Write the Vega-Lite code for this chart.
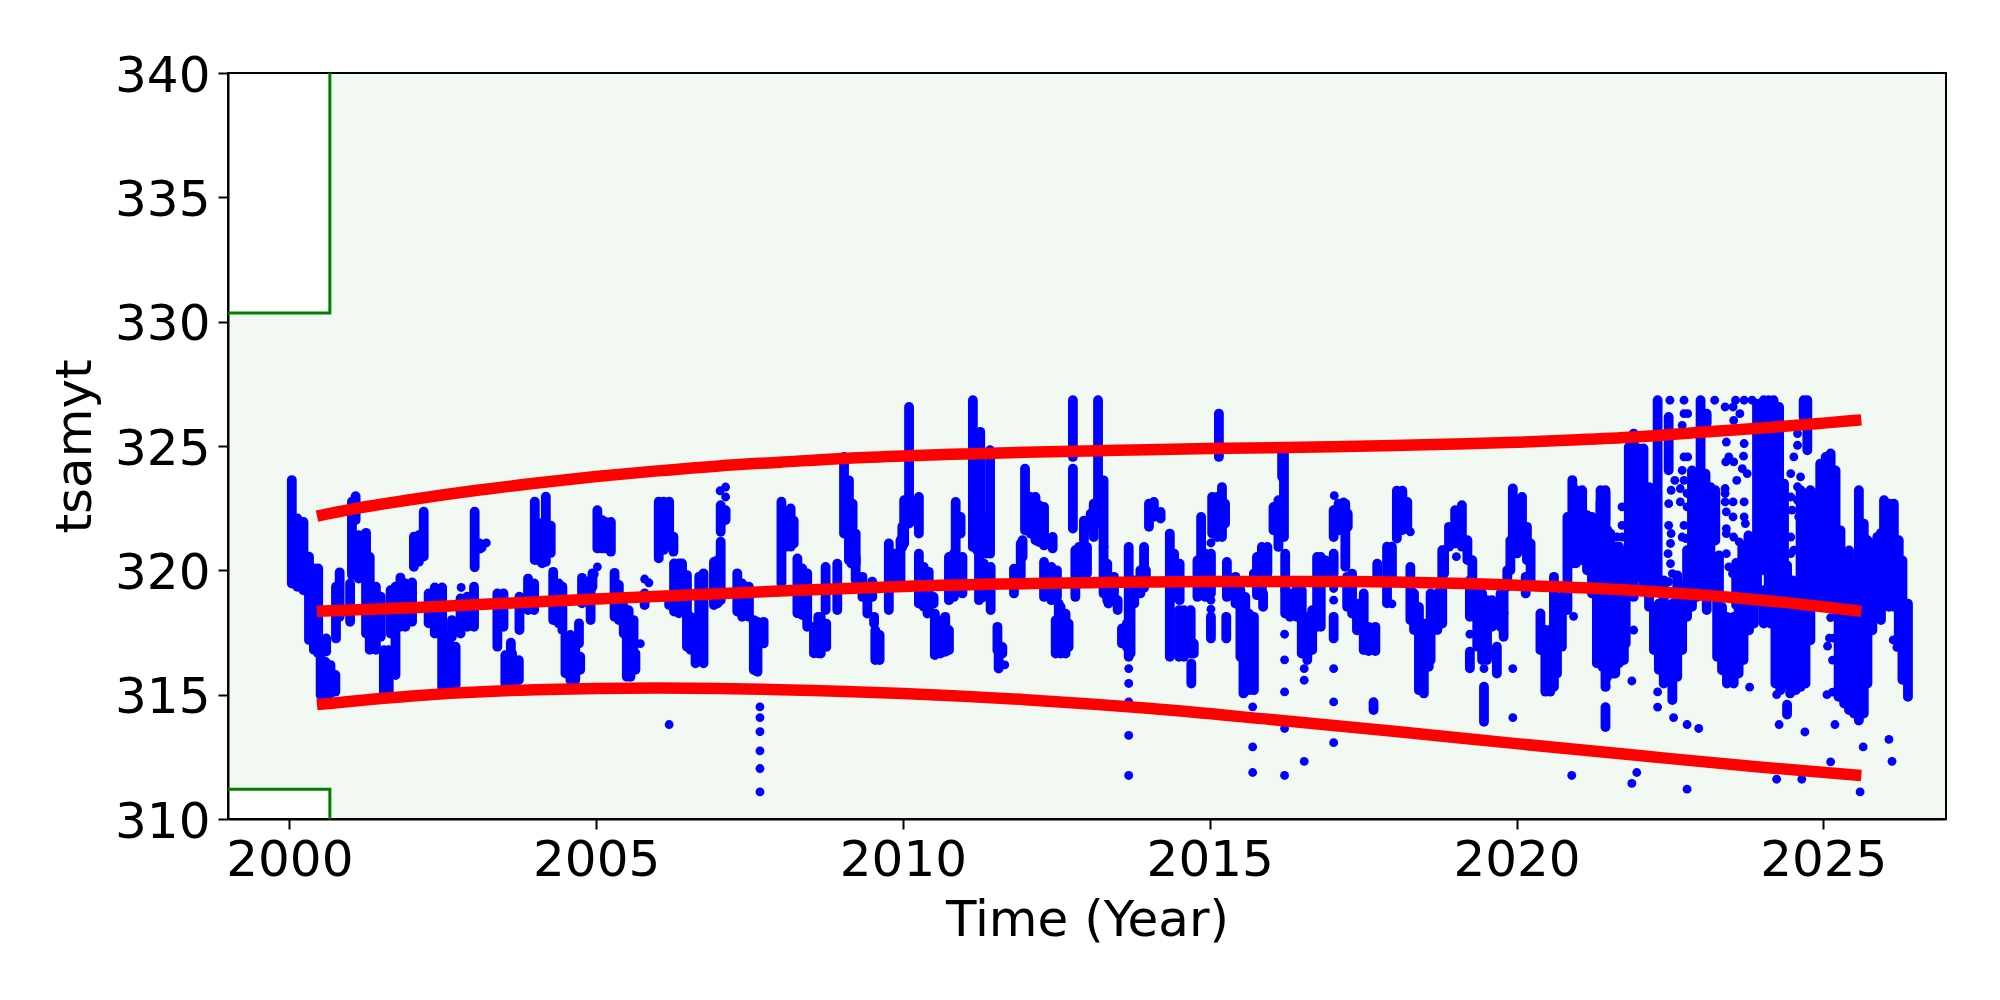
{"$schema":"https://vega.github.io/schema/vega-lite/v6.json","autosize":"none","padding":{"left":228,"top":73,"right":54,"bottom":181},"width":1718,"height":746,"background":"white","config":{"view":{"stroke":"black","strokeWidth":2},"font":"DejaVu Sans"},
"datasets":{
"band":[{"t0":2000.66,"t1":2027,"lo":310,"hi":340},{"t0":1999,"t1":2000.66,"lo":311.2,"hi":330.35}],
"limit":[{"n":"upper","s":1,"t":1999,"v":330.35},{"n":"upper","s":2,"t":2000.66,"v":330.35},{"n":"upper","s":3,"t":2000.66,"v":340},{"n":"lower","s":1,"t":1999,"v":311.2},{"n":"lower","s":2,"t":2000.66,"v":311.2},{"n":"lower","s":3,"t":2000.66,"v":310}],
"runs":[
{"t":2000.04,"a":319.47,"b":323.63},{"t":2000.13,"a":319.34,"b":322.09},{"t":2000.23,"a":319.2,"b":321.95},{"t":2000.32,"a":317.2,"b":320.55},{"t":2000.4,"a":316.8,"b":320.08},{"t":2000.47,"a":316.66,"b":320.08},{"t":2000.6,"a":316.73,"b":317.26},{"t":2000.51,"a":314.99,"b":316.46},{"t":2000.59,"a":315,"b":316.32},{"t":2000.67,"a":315.05,"b":316.19},{"t":2000.75,"a":315.12,"b":315.79},{"t":2000.82,"a":318.13,"b":319.92},{"t":2000.76,"a":317.26,"b":319.34},{"t":2000.99,"a":317.93,"b":319.47},{"t":2001.02,"a":319.81,"b":322.76},{"t":2001.08,"a":322.02,"b":322.98},{"t":2001.13,"a":319.67,"b":321.41},{"t":2001.25,"a":317.46,"b":321.51},{"t":2001.31,"a":316.8,"b":320.54},{"t":2001.41,"a":316.8,"b":319.34},{"t":2001.49,"a":317.33,"b":318.94},{"t":2001.54,"a":315.05,"b":316.79},{"t":2001.62,"a":315.12,"b":316.79},{"t":2001.73,"a":315.79,"b":317.46},{"t":2001.65,"a":317.46,"b":319.2},{"t":2001.73,"a":317.73,"b":319.34},{"t":2001.81,"a":317.73,"b":319.71},{"t":2001.89,"a":317.73,"b":319.47},{"t":2002,"a":317.93,"b":319.51},{"t":2002.03,"a":320.14,"b":321.35},{"t":2002.11,"a":320.34,"b":321.41},{"t":2002.19,"a":320.55,"b":322.36},{"t":2002.27,"a":317.87,"b":319.07},{"t":2002.37,"a":317.46,"b":319.31},{"t":2002.49,"a":317.33,"b":319.31},{"t":2002.49,"a":315.32,"b":317.33},{"t":2002.6,"a":315.32,"b":317.33},{"t":2002.71,"a":315.39,"b":316.93},{"t":2002.65,"a":317.33,"b":318},{"t":2002.79,"a":317.46,"b":318.87},{"t":2002.9,"a":317.73,"b":318.94},{"t":2003.01,"a":317.73,"b":319.34},{"t":2003.02,"a":320.12,"b":322.36},{"t":2003.1,"a":320.87,"b":321.08},{"t":2003.39,"a":316.93,"b":319.07},{"t":2003.49,"a":317.73,"b":319.07},{"t":2003.61,"a":316.66,"b":317.09},{"t":2003.52,"a":315.45,"b":316.59},{"t":2003.63,"a":315.39,"b":316.66},{"t":2003.74,"a":315.59,"b":316.39},{"t":2003.75,"a":317.6,"b":318.94},{"t":2003.89,"a":318.4,"b":319.67},{"t":2003.99,"a":318.4,"b":319.47},{"t":2004,"a":320.41,"b":322.76},{"t":2004.05,"a":320.41,"b":321.9},{"t":2004.18,"a":320.34,"b":322.96},{"t":2004.12,"a":320.28,"b":321.9},
{"t":2004.26,"a":320.7,"b":321.8},{"t":2004.3,"a":318,"b":319.94},{"t":2004.39,"a":317.87,"b":319.47},{"t":2004.45,"a":317.6,"b":319.34},{"t":2004.72,"a":317.06,"b":317.87},{"t":2004.5,"a":315.86,"b":317.35},{"t":2004.58,"a":315.59,"b":317.4},{"t":2004.66,"a":315.59,"b":317.2},{"t":2004.74,"a":316,"b":316.53},{"t":2004.77,"a":318.67,"b":319.7},{"t":2004.91,"a":318,"b":319.6},{"t":2004.94,"a":319.34,"b":319.88},{"t":2005.02,"a":320.88,"b":322.42},{"t":2005.1,"a":320.88,"b":322.02},{"t":2005.15,"a":320.88,"b":321.95},{"t":2005.24,"a":320.75,"b":321.95},{"t":2005.3,"a":318.13,"b":319.9},{"t":2005.37,"a":318,"b":319.41},{"t":2005.45,"a":317.46,"b":318.54},{"t":2005.53,"a":316.8,"b":318.4},{"t":2005.61,"a":316.93,"b":318},{"t":2005.5,"a":315.72,"b":317.33},{"t":2005.56,"a":315.72,"b":316.79},{"t":2005.64,"a":316,"b":316.66},{"t":2005.79,"a":318.6,"b":319.07},{"t":2006.02,"a":320.48,"b":322.76},{"t":2006.1,"a":320.82,"b":322.76},{"t":2006.19,"a":320.95,"b":322.76},{"t":2006.26,"a":320.75,"b":321.35},{"t":2006.27,"a":318.34,"b":320.28},{"t":2006.19,"a":318.6,"b":318.87},{"t":2006.35,"a":318.27,"b":320.28},{"t":2006.4,"a":318.54,"b":320.28},{"t":2006.48,"a":316.93,"b":319.81},{"t":2006.54,"a":316.8,"b":318.13},{"t":2006.62,"a":316.26,"b":317.73},{"t":2006.75,"a":316.26,"b":319.88},{"t":2006.68,"a":316.39,"b":319.75},{"t":2006.92,"a":318.6,"b":320.34},{"t":2007.03,"a":318.8,"b":321.15},{"t":2006.98,"a":318.67,"b":320.41},{"t":2007.03,"a":321.55,"b":322.62},{"t":2007.11,"a":322.02,"b":322.42},{"t":2007.3,"a":318.34,"b":319.88},{"t":2007.38,"a":318.13,"b":319.47},{"t":2007.49,"a":318.13,"b":319.34},{"t":2007.57,"a":315.99,"b":318},{"t":2007.63,"a":315.92,"b":317.93},{"t":2007.73,"a":317.06,"b":317.93},{"t":2008.02,"a":319.47,"b":322.76},{"t":2008.1,"a":320.95,"b":322.22},{"t":2008.17,"a":320.95,"b":322.49},{"t":2008.22,"a":321.08,"b":322},{"t":2008.28,"a":318.27,"b":320.48},{"t":2008.36,"a":318.2,"b":320.08},{"t":2008.44,"a":317.73,"b":319.88},{"t":2008.55,"a":316.66,"b":317.73},{"t":2008.62,"a":316.66,"b":318.13},
{"t":2008.66,"a":316.65,"b":318.13},{"t":2008.75,"a":316.92,"b":317.86},{"t":2008.74,"a":318.4,"b":320.14},{"t":2008.93,"a":318.4,"b":320.27},{"t":2009.04,"a":321.48,"b":324.56},{"t":2009.12,"a":321.61,"b":323.62},{"t":2009.18,"a":321.75,"b":322.68},{"t":2009.12,"a":320.4,"b":321.61},{"t":2009.23,"a":320.27,"b":321.48},{"t":2009.16,"a":320.27,"b":321.34},{"t":2009.23,"a":319.6,"b":320.54},{"t":2009.34,"a":318.93,"b":319.74},{"t":2009.42,"a":318.26,"b":318.93},{"t":2009.5,"a":318.93,"b":319.54},{"t":2009.53,"a":317.86,"b":318.13},{"t":2009.55,"a":316.39,"b":317.59},{"t":2009.62,"a":316.39,"b":317.4},{"t":2009.77,"a":318.4,"b":321.08},{"t":2009.85,"a":319.6,"b":320.67},{"t":2009.96,"a":319.6,"b":321.21},{"t":2010.02,"a":321.08,"b":321.88},{"t":2010.1,"a":322.95,"b":326.57},{"t":2010.02,"a":322,"b":322.82},{"t":2010.1,"a":321.88,"b":322.95},{"t":2010.26,"a":321.48,"b":322.95},{"t":2010.18,"a":322,"b":322.68},{"t":2009.99,"a":320.94,"b":321.75},{"t":2010.26,"a":318.66,"b":320.67},{"t":2010.34,"a":318.53,"b":320.14},{"t":2010.42,"a":318.4,"b":319.94},{"t":2010.5,"a":318.66,"b":318.93},{"t":2010.52,"a":316.59,"b":318.26},{"t":2010.61,"a":316.65,"b":317.99},{"t":2010.69,"a":316.72,"b":318.13},{"t":2010.75,"a":316.79,"b":317.59},{"t":2010.4,"a":318.26,"b":318.66},{"t":2010.75,"a":318.8,"b":320.54},{"t":2010.83,"a":318.93,"b":320.67},{"t":2010.97,"a":319.07,"b":320.54},{"t":2010.86,"a":320.67,"b":322.75},{"t":2010.94,"a":321.48,"b":322.15},{"t":2011.14,"a":320.94,"b":326.84},{"t":2011.21,"a":320.81,"b":325.5},{"t":2011.26,"a":320.81,"b":325.57},{"t":2011.35,"a":320.67,"b":322.15},{"t":2011.42,"a":320.67,"b":324.83},{"t":2011.24,"a":318.8,"b":320.81},{"t":2011.32,"a":318.93,"b":320.27},{"t":2011.43,"a":318.4,"b":320.14},{"t":2011.54,"a":316.79,"b":317.73},{"t":2011.62,"a":316.65,"b":316.92},{"t":2011.56,"a":316.05,"b":316.79},{"t":2011.81,"a":319.07,"b":320.07},{"t":2011.92,"a":319.6,"b":321.08},{"t":2011.95,"a":320.54,"b":321.21},{"t":2011.99,"a":321.61,"b":324.09},{"t":2012.08,"a":321.48,"b":322.95},{"t":2012.16,"a":321.21,"b":322.95},{"t":2012.22,"a":321.14,"b":322.62},{"t":2012.3,"a":321,"b":322.55},{"t":2012.44,"a":320.88,"b":321.34},{"t":2012.3,"a":318.93,"b":320.34},{"t":2012.42,"a":318.8,"b":320.14},{"t":2012.51,"a":318.93,"b":320},{"t":2012.54,"a":318.2,"b":318.66},{"t":2012.49,"a":316.65,"b":317.99},{"t":2012.57,"a":316.65,"b":318.53},{"t":2012.65,"a":316.65,"b":318.26},{"t":2012.7,"a":316.92,"b":317.86},{"t":2012.77,"a":324.56,"b":326.84},{"t":2012.77,"a":321.68,"b":324.09},{"t":2012.81,"a":318.93,"b":320.81},{"t":2012.87,"a":319.6,"b":320.94},{"t":2013,"a":319.87,"b":320.94},{"t":2012.95,"a":321.2,"b":322},
{"t":2013.18,"a":321.88,"b":326.84},{"t":2013.11,"a":321.34,"b":322.68},{"t":2013.06,"a":321.61,"b":322.28},{"t":2013.27,"a":320.94,"b":323.62},{"t":2013.27,"a":319.07,"b":320.94},{"t":2013.33,"a":318.8,"b":320.27},{"t":2013.44,"a":319.07,"b":319.74},{"t":2013.5,"a":318.4,"b":318.8},{"t":2013.35,"a":318.66,"b":318.93},{"t":2013.68,"a":316.52,"b":320.94},{"t":2013.57,"a":317.06,"b":317.66},{"t":2013.65,"a":316.92,"b":317.86},{"t":2013.71,"a":316.66,"b":318.53},{"t":2013.93,"a":319.3,"b":320.94},{"t":2013.77,"a":318.66,"b":319.6},{"t":2013.87,"a":319.07,"b":320},{"t":2013.96,"a":319.6,"b":320},{"t":2014.01,"a":321.75,"b":322.68},{"t":2014.09,"a":322.15,"b":322.75},{"t":2014.2,"a":322.08,"b":322.35},{"t":2014.35,"a":316.52,"b":321.48},{"t":2014.42,"a":318.93,"b":320.67},{"t":2014.51,"a":318.8,"b":320.27},{"t":2014.5,"a":316.52,"b":318.4},{"t":2014.58,"a":316.52,"b":318.4},{"t":2014.69,"a":316.65,"b":318.4},{"t":2014.74,"a":316.65,"b":317.06},{"t":2014.7,"a":315.45,"b":316.25},{"t":2014.8,"a":318.93,"b":320.4},{"t":2014.86,"a":320.54,"b":322.15},{"t":2014.93,"a":318.93,"b":320.67},{"t":2015.02,"a":319.07,"b":320.67},{"t":2015.02,"a":317.26,"b":318.13},{"t":2015.04,"a":321.48,"b":322.95},{"t":2015.2,"a":321.34,"b":323.35},{"t":2015.25,"a":321.88,"b":322.68},{"t":2015.12,"a":321.34,"b":322.95},{"t":2015.15,"a":324.56,"b":326.3},{"t":2015.27,"a":317.26,"b":318.13},{"t":2015.28,"a":318.93,"b":320.34},{"t":2015.42,"a":318.66,"b":319.74},{"t":2015.5,"a":316.52,"b":319.2},{"t":2015.58,"a":315.18,"b":318.93},{"t":2015.55,"a":315.05,"b":318.4},{"t":2015.64,"a":315.18,"b":318.26},{"t":2015.72,"a":315.18,"b":318.13},{"t":2015.77,"a":319.0,"b":320.54},{"t":2015.85,"a":319.2,"b":320.94},{"t":2015.94,"a":319.87,"b":320.94},{"t":2015.87,"a":318.53,"b":319.07},{"t":2015.72,"a":319.6,"b":319.87},{"t":2016.18,"a":323.76,"b":324.8},{"t":2016.21,"a":321.34,"b":324.7},{"t":2016.04,"a":321.61,"b":322.55},{"t":2016.12,"a":320.94,"b":322.82},{"t":2016.23,"a":319.2,"b":320.67},{"t":2016.23,"a":318.26,"b":319.2},{"t":2016.31,"a":318.13,"b":319.07},{"t":2016.42,"a":318.13,"b":319.34},{"t":2016.5,"a":316.65,"b":319.2},{"t":2016.59,"a":316.39,"b":318.13},{"t":2016.67,"a":316.79,"b":318.4},{"t":2016.75,"a":317.73,"b":320.54},{"t":2016.81,"a":317.73,"b":320.54},{"t":2016.89,"a":319.87,"b":320.4},{"t":2017.02,"a":321.34,"b":322.42},{"t":2017.1,"a":321.61,"b":322.68},{"t":2017.21,"a":320.14,"b":322.68},{"t":2017.25,"a":321.75,"b":322.28},{"t":2017.02,"a":319.87,"b":320.67},{"t":2017.02,"a":317.26,"b":318.13},{"t":2017.24,"a":318.53,"b":319.74},{"t":2017.32,"a":318.26,"b":319.87},{"t":2017.4,"a":317.59,"b":318.66},
{"t":2017.51,"a":316.79,"b":319.07},{"t":2017.59,"a":316.75,"b":317.73},{"t":2017.7,"a":316.75,"b":317.73},{"t":2017.73,"a":319.8,"b":320.27},{"t":2017.67,"a":314.38,"b":314.7},{"t":2017.89,"a":318.67,"b":320.95},{"t":2017.97,"a":319.6,"b":320.95},{"t":2018.05,"a":321.28,"b":323.2},{"t":2018.14,"a":321.62,"b":323.2},{"t":2018.22,"a":321.68,"b":322.75},{"t":2018.27,"a":318,"b":320.14},{"t":2018.33,"a":317.6,"b":319.07},{"t":2018.41,"a":315.18,"b":318.53},{"t":2018.49,"a":315.05,"b":317.86},{"t":2018.57,"a":316.12,"b":317.46},{"t":2018.6,"a":316.39,"b":319.07},{"t":2018.71,"a":317.6,"b":319.07},{"t":2018.79,"a":317.86,"b":320.81},{"t":2018.82,"a":319.87,"b":320.81},{"t":2018.9,"a":320.95,"b":321.75},{"t":2019,"a":321.08,"b":322.42},{"t":2019.11,"a":320.95,"b":322.62},{"t":2019.2,"a":320.41,"b":321.21},{"t":2019.28,"a":318.4,"b":320.41},{"t":2019.24,"a":318.13,"b":319.6},{"t":2019.36,"a":316.93,"b":319.07},{"t":2019.44,"a":316.39,"b":319.07},{"t":2019.52,"a":316.39,"b":318.8},{"t":2019.6,"a":317.73,"b":318.8},{"t":2019.74,"a":317.73,"b":319.07},{"t":2019.79,"a":317.33,"b":318.27},{"t":2019.68,"a":315.85,"b":316.93},{"t":2019.24,"a":316.06,"b":316.73},{"t":2019.47,"a":313.91,"b":315.32},{"t":2019.94,"a":320.95,"b":323.29},{"t":2020.09,"a":320.95,"b":322.95},{"t":2020.01,"a":320.68,"b":322.69},{"t":2020.17,"a":320.41,"b":321.75},{"t":2020.23,"a":319.6,"b":321.08},{"t":2019.9,"a":320,"b":321.2},{"t":2019.85,"a":319.34,"b":320},{"t":2019.79,"a":318.27,"b":319.34},{"t":2020.15,"a":319.07,"b":319.74},{"t":2020.39,"a":316.79,"b":318.27},{"t":2020.61,"a":315.32,"b":319.74},{"t":2020.47,"a":315.12,"b":317.6},{"t":2020.55,"a":315.12,"b":317.6},{"t":2020.66,"a":315.85,"b":317.6},{"t":2020.74,"a":316.93,"b":318.94},{"t":2020.83,"a":318.4,"b":322.15},{"t":2020.91,"a":320.28,"b":323.63},{"t":2020.97,"a":320.28,"b":323.22},{"t":2021.07,"a":320.41,"b":323.22},{"t":2021.15,"a":320,"b":322.22},{"t":2021.23,"a":319.07,"b":322.15},{"t":2021.31,"a":316.26,"b":321.48},{"t":2021.4,"a":316.12,"b":321.35},{"t":2021.45,"a":322.02,"b":323.09},{"t":2021.37,"a":321.62,"b":322.75},{"t":2021.48,"a":315.72,"b":321.62},{"t":2021.45,"a":313.7,"b":314.5},{"t":2021.58,"a":315.85,"b":320.95},{"t":2021.67,"a":316.26,"b":320.95},{"t":2021.75,"a":316.39,"b":320.41},
{"t":2021.37,"a":316.25,"b":323.22},{"t":2021.45,"a":315.31,"b":323.22},{"t":2021.53,"a":315.98,"b":321.48},{"t":2021.61,"a":315.85,"b":320.94},{"t":2021.69,"a":316.52,"b":320.81},{"t":2021.78,"a":317.06,"b":320.4},{"t":2021.91,"a":318.93,"b":325.5},{"t":2021.99,"a":319.74,"b":324.9},{"t":2022.07,"a":319.47,"b":324.9},{"t":2021.83,"a":320.14,"b":324.96},{"t":2022.16,"a":318.53,"b":323.35},{"t":2022.3,"a":323.35,"b":326.84},{"t":2022.3,"a":319.2,"b":323.22},{"t":2022.24,"a":316.79,"b":318.53},{"t":2022.32,"a":316,"b":318.66},{"t":2022.4,"a":315.45,"b":319.6},{"t":2022.48,"a":324.02,"b":326.17},{"t":2022.54,"a":314.78,"b":318.66},{"t":2022.62,"a":315.72,"b":319.2},{"t":2022.7,"a":316.79,"b":319.33},{"t":2022.78,"a":318.13,"b":320.81},{"t":2022.86,"a":318.53,"b":324.02},{"t":2022.94,"a":318.93,"b":323.49},{"t":2023,"a":323.35,"b":326.84},{"t":2023.08,"a":319.2,"b":323.89},{"t":2023.16,"a":319.2,"b":323.35},{"t":2023.24,"a":321.2,"b":323.22},{"t":2023.1,"a":325.9,"b":326.3},{"t":2023.27,"a":316.52,"b":319.2},{"t":2023.35,"a":315.98,"b":318.53},{"t":2023.43,"a":315.45,"b":318.13},{"t":2023.54,"a":315.45,"b":318.13},{"t":2023.62,"a":315.85,"b":318.4},{"t":2023.7,"a":316.39,"b":318.4},{"t":2023.79,"a":317.59,"b":318.66},{"t":2023.87,"a":317.86,"b":318.93},{"t":2023.1,"a":318.4,"b":319.2},{"t":2023.92,"a":318.93,"b":326.7},{"t":2024.03,"a":320,"b":326.84},{"t":2024.11,"a":318.93,"b":326.84},{"t":2024.19,"a":319.2,"b":326.84},{"t":2024.28,"a":318.66,"b":326.57},{"t":2024.36,"a":319.34,"b":323.49},{"t":2024.03,"a":317.86,"b":319.2},{"t":2024.14,"a":317.86,"b":318.93},{"t":2024.22,"a":315.45,"b":318.93},{"t":2024.3,"a":315.18,"b":318.66},{"t":2024.38,"a":315.45,"b":318.66},{"t":2024.46,"a":315.05,"b":318.93},{"t":2024.55,"a":315.18,"b":318.93},{"t":2024.63,"a":315.31,"b":318.53},{"t":2024.71,"a":315.45,"b":318.53},{"t":2024.79,"a":317.19,"b":318.53},{"t":2024.41,"a":314.2,"b":314.6},{"t":2024.68,"a":326.17,"b":326.84},{"t":2024.74,"a":324.83,"b":326.84},{"t":2024.63,"a":318.53,"b":323.22},{"t":2024.71,"a":318.53,"b":323.09},{"t":2024.79,"a":318.53,"b":323.22},{"t":2024.87,"a":318.66,"b":323.09},{"t":2024.95,"a":318.66,"b":324.29},{"t":2025.04,"a":318.53,"b":324.56},{"t":2025.12,"a":318.93,"b":324.7},{"t":2025.2,"a":318.4,"b":324.02},{"t":2025.28,"a":318.66,"b":321.61},{"t":2025.36,"a":318.53,"b":320.54},{"t":2025.25,"a":314.91,"b":318.13},{"t":2025.34,"a":314.64,"b":318.53},{"t":2025.42,"a":314.38,"b":320.8},{"t":2025.5,"a":314.24,"b":320.27},{"t":2025.58,"a":313.96,"b":323.22},{"t":2025.66,"a":314.24,"b":321.88},{"t":2025.72,"a":315.45,"b":321.21},{"t":2025.8,"a":317.59,"b":321.08},{"t":2025.84,"a":318.4,"b":321},{"t":2025.88,"a":318.53,"b":321.34},{"t":2025.94,"a":318,"b":321.5},{"t":2025.99,"a":318.93,"b":322.82},{"t":2026.07,"a":318.53,"b":322.68},{"t":2026.15,"a":318.53,"b":322.68},{"t":2026.23,"a":317.05,"b":321.21},{"t":2026.29,"a":315.6,"b":320.4},{"t":2026.38,"a":314.91,"b":318.66},{"t":2023.3,"a":319,"b":320.6},{"t":2023.58,"a":318.6,"b":320.3},{"t":2023.68,"a":318.6,"b":321},{"t":2023.78,"a":318.5,"b":321.4},{"t":2022.62,"a":319.2,"b":319.8},{"t":2024.41,"a":318.5,"b":320.2},{"t":2024.5,"a":318.6,"b":319.6}
],
"dots":[{"t":2002.8,"v":319.31},{"t":2003.21,"v":321.1},{"t":2003.14,"v":320.9},{"t":2005.02,"v":320.14},{"t":2004.97,"v":319.85},{"t":2005.72,"v":317.05},{"t":2005.79,"v":319.65},{"t":2005.86,"v":319.5},{"t":2007.11,"v":323.35},{"t":2007.02,"v":323.2},{"t":2007.11,"v":322.95},{"t":2006.19,"v":313.8},{"t":2007.67,"v":314.51},{"t":2007.67,"v":314.08},{"t":2007.67,"v":313.51},{"t":2007.67,"v":312.74},{"t":2007.67,"v":312.03},{"t":2007.67,"v":311.09},{"t":2011.66,"v":316.2},{"t":2013.68,"v":316.05},{"t":2013.68,"v":315.45},{"t":2013.68,"v":314.71},{"t":2013.68,"v":313.36},{"t":2013.68,"v":311.75},{"t":2015.02,"v":321.1},{"t":2015.02,"v":318.8},{"t":2015.02,"v":318.44},{"t":2015.7,"v":314.51},{"t":2015.7,"v":312.9},{"t":2015.7,"v":311.87},{"t":2016.22,"v":317.43},{"t":2016.22,"v":316.4},{"t":2016.22,"v":315.11},{"t":2016.22,"v":313.64},{"t":2016.22,"v":311.75},{"t":2016.54,"v":316.05},{"t":2016.54,"v":315.58},{"t":2016.54,"v":312.32},{"t":2017.02,"v":319.27},{"t":2017.02,"v":318.8},{"t":2017.02,"v":316.05},{"t":2017.02,"v":314.71},{"t":2017.02,"v":313.07},{"t":2017.03,"v":323},{"t":2017.18,"v":322.75},{"t":2017.97,"v":318.65},{"t":2018.27,"v":321.55},{"t":2019.02,"v":320.55},{"t":2019.24,"v":317.43},{"t":2019.47,"v":316.05},{"t":2019.94,"v":316.05},{"t":2019.94,"v":314.08},{"t":2020.9,"v":311.75},{"t":2020.93,"v":318.15},{"t":2021.72,"v":322.55},{"t":2021.72,"v":321.81},{"t":2021.72,"v":321.34},{"t":2021.64,"v":321.34},{"t":2021.46,"v":315.31},{"t":2021.88,"v":315.55},{"t":2021.91,"v":317.6},{"t":2021.96,"v":311.87},{"t":2021.88,"v":311.43},{"t":2022.5,"v":326.84},{"t":2022.73,"v":326.84},{"t":2023.23,"v":326.84},{"t":2023.57,"v":326.84},{"t":2023.71,"v":326.84},{"t":2023.84,"v":326.84},{"t":2022.73,"v":326.3},{"t":2022.79,"v":326.3},{"t":2022.7,"v":325.83},{"t":2022.73,"v":324.56},{"t":2022.79,"v":324.56},{"t":2022.7,"v":324.02},{"t":2022.58,"v":323.62},{"t":2022.73,"v":323.62},{"t":2022.52,"v":323.22},{"t":2022.67,"v":323.29},{"t":2022.78,"v":323.09},{"t":2022.48,"v":322.68},{"t":2022.67,"v":322.75},{"t":2022.78,"v":322.55},{"t":2022.48,"v":321.81},{"t":2022.73,"v":321.81},{"t":2022.52,"v":321.48},{"t":2022.7,"v":321.34},{"t":2022.51,"v":321.08},{"t":2022.76,"v":321.28},{"t":2022.47,"v":320.67},{"t":2022.51,"v":320.27},{"t":2022.54,"v":319.87},{"t":2022.48,"v":319.54},{"t":2023.4,"v":326.57},{"t":2023.53,"v":326.57},{"t":2023.64,"v":326.3},{"t":2023.54,"v":326.03},{"t":2023.42,"v":325.16},{"t":2023.71,"v":325.1},{"t":2023.7,"v":324.59},{"t":2023.41,"v":324.36},{"t":2023.46,"v":324.56},{"t":2023.54,"v":324.36},{"t":2023.68,"v":324.09},{"t":2023.76,"v":323.89},{"t":2023.59,"v":323.62},{"t":2023.4,"v":323.29},{"t":2023.4,"v":323.09},{"t":2023.4,"v":322.75},{"t":2023.53,"v":322.75},{"t":2023.71,"v":322.75},{"t":2023.42,"v":322.35},{"t":2023.53,"v":322.15},{"t":2023.71,"v":322.15},{"t":2023.42,"v":321.68},{"t":2023.42,"v":321.48},{"t":2023.54,"v":321.34},{"t":2023.63,"v":321.14},{"t":2023.73,"v":321.88},{"t":2023.42,"v":320.67},{"t":2023.46,"v":320.14},{"t":2023.52,"v":319.87},{"t":2024.52,"v":324.56},{"t":2024.47,"v":323.89},{"t":2024.63,"v":323.76},{"t":2024.58,"v":323.36},{"t":2024.47,"v":322.95},{"t":2024.58,"v":322.82},{"t":2024.49,"v":322.42},{"t":2024.6,"v":322.15},{"t":2024.63,"v":321.75},{"t":2024.47,"v":321.34},{"t":2024.52,"v":320.81},{"t":2024.47,"v":320.67},{"t":2024.58,"v":325.5},{"t":2024.58,"v":325.03},{"t":2022.78,"v":311.2},{"t":2024.65,"v":311.6},{"t":2024.24,"v":311.6},{"t":2024.28,"v":313.8},{"t":2024.7,"v":313.5},{"t":2025.19,"v":313.8},{"t":2024.24,"v":315},{"t":2022.56,"v":314.08},{"t":2022.78,"v":313.8},{"t":2022.97,"v":313.64},{"t":2022.3,"v":315.11},{"t":2022.3,"v":314.5},{"t":2023.8,"v":315.3},{"t":2025.06,"v":315},{"t":2025.15,"v":315.1},{"t":2025.12,"v":312.3},{"t":2025.6,"v":311.09},{"t":2025.65,"v":312.9},{"t":2026.07,"v":313.2},{"t":2026.12,"v":312.32},{"t":2025.1,"v":317.27},{"t":2025.17,"v":317.27},{"t":2025.07,"v":316.95},{"t":2025.15,"v":316.39},{"t":2025.12,"v":318.1},{"t":2026.14,"v":317.2},{"t":2026.2,"v":316.9}],
"fit":[
{"c":"upper","t":2000.45,"v":322.18},{"c":"upper","t":2001,"v":322.45},{"c":"upper","t":2002,"v":322.85},{"c":"upper","t":2003,"v":323.2},{"c":"upper","t":2004,"v":323.5},{"c":"upper","t":2005,"v":323.77},{"c":"upper","t":2006,"v":324},{"c":"upper","t":2007,"v":324.2},{"c":"upper","t":2008,"v":324.35},{"c":"upper","t":2009,"v":324.5},{"c":"upper","t":2010,"v":324.6},{"c":"upper","t":2011,"v":324.68},{"c":"upper","t":2012,"v":324.75},{"c":"upper","t":2013,"v":324.8},{"c":"upper","t":2014,"v":324.85},{"c":"upper","t":2015,"v":324.9},{"c":"upper","t":2016,"v":324.93},{"c":"upper","t":2017,"v":324.97},{"c":"upper","t":2018,"v":325.02},{"c":"upper","t":2019,"v":325.08},{"c":"upper","t":2020,"v":325.15},{"c":"upper","t":2021,"v":325.25},{"c":"upper","t":2022,"v":325.37},{"c":"upper","t":2023,"v":325.55},{"c":"upper","t":2024,"v":325.72},{"c":"upper","t":2025,"v":325.92},{"c":"upper","t":2025.62,"v":326.05},
{"c":"middle","t":2000.45,"v":318.35},{"c":"middle","t":2002,"v":318.5},{"c":"middle","t":2005,"v":318.85},{"c":"middle","t":2008,"v":319.17},{"c":"middle","t":2010,"v":319.35},{"c":"middle","t":2013,"v":319.5},{"c":"middle","t":2015,"v":319.55},{"c":"middle","t":2017,"v":319.55},{"c":"middle","t":2020,"v":319.4},{"c":"middle","t":2022,"v":319.18},{"c":"middle","t":2024,"v":318.8},{"c":"middle","t":2025.62,"v":318.35},
{"c":"lower","t":2000.45,"v":314.6},{"c":"lower","t":2002,"v":314.95},{"c":"lower","t":2004,"v":315.2},{"c":"lower","t":2006,"v":315.27},{"c":"lower","t":2008,"v":315.2},{"c":"lower","t":2010,"v":315.05},{"c":"lower","t":2012,"v":314.8},{"c":"lower","t":2014,"v":314.45},{"c":"lower","t":2016,"v":314},{"c":"lower","t":2018,"v":313.53},{"c":"lower","t":2020,"v":313.03},{"c":"lower","t":2022,"v":312.55},{"c":"lower","t":2024,"v":312.08},{"c":"lower","t":2025.62,"v":311.75}]
},
"layer":[
{"data":{"name":"band"},"mark":{"type":"rect","color":"#008000","opacity":0.05},"encoding":{"x":{"field":"t0","type":"quantitative","scale":{"domain":[1999,2027],"nice":false,"zero":false},"axis":{"values":[2000,2005,2010,2015,2020,2025],"format":"d","grid":false,"title":"Time (Year)","titleFontSize":50,"titleFontWeight":"normal","titleColor":"black","titlePadding":10,"labelFontSize":50,"labelColor":"black","labelPadding":6,"labelFlush":false,"tickColor":"black","tickWidth":2,"tickSize":10,"domainColor":"black","domainWidth":2}},"x2":{"field":"t1"},"y":{"field":"lo","type":"quantitative","scale":{"domain":[310,340],"nice":false,"zero":false},"axis":{"values":[310,315,320,325,330,335,340],"grid":false,"title":"tsamyt","titleFontSize":50,"titleFontWeight":"normal","titleColor":"black","titlePadding":14,"labelFontSize":50,"labelColor":"black","labelPadding":8,"labelOffset":3,"labelFlush":false,"tickColor":"black","tickWidth":2,"tickSize":10,"domainColor":"black","domainWidth":2}},"y2":{"field":"hi"}}},
{"data":{"name":"limit"},"mark":{"type":"line","color":"#008000","strokeWidth":3},"encoding":{"x":{"field":"t","type":"quantitative"},"y":{"field":"v","type":"quantitative"},"detail":{"field":"n"},"order":{"field":"s"}}},
{"data":{"name":"runs"},"mark":{"type":"rule","color":"#0000ff","strokeWidth":9.8,"strokeCap":"round"},"encoding":{"x":{"field":"t","type":"quantitative"},"y":{"field":"a","type":"quantitative"},"y2":{"field":"b"}}},
{"data":{"name":"dots"},"mark":{"type":"circle","color":"#0000ff","size":78,"opacity":1},"encoding":{"x":{"field":"t","type":"quantitative"},"y":{"field":"v","type":"quantitative"}}},
{"data":{"name":"fit"},"mark":{"type":"line","color":"#ff0000","strokeWidth":11.5,"strokeCap":"butt","interpolate":"monotone"},"encoding":{"x":{"field":"t","type":"quantitative"},"y":{"field":"v","type":"quantitative"},"detail":{"field":"c"}}}
]}
